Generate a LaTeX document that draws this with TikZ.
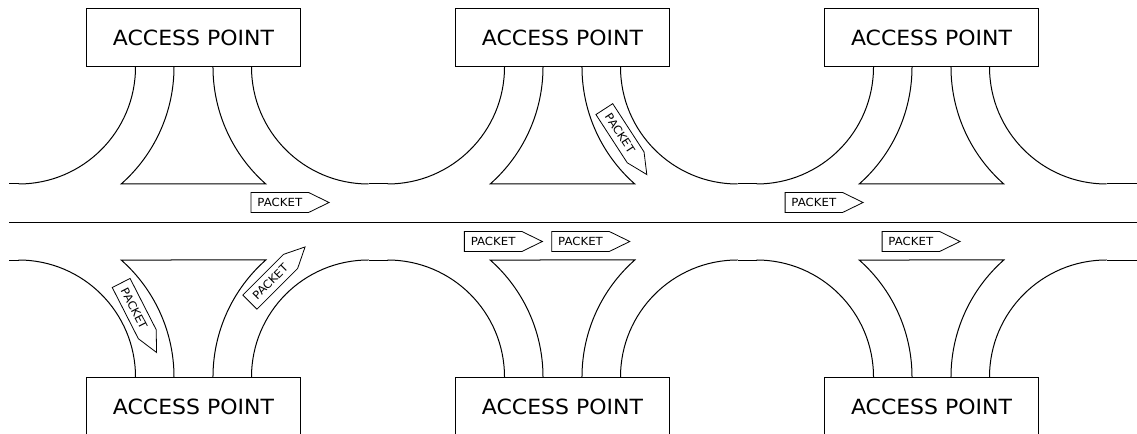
\documentclass[tikz,border=0pt]{standalone}
\usepackage{fontspec}
\setmainfont[FakeStretch=1.05]{DejaVu Sans}
\usetikzlibrary{shapes.symbols,calc}
\tikzset{
  apbox/.style={draw,rectangle,inner sep=0pt,minimum width=160.5pt,minimum height=43.5pt,font=\fontsize{15.7}{18}\selectfont},
  packet/.style={draw,signal,signal to=east,signal pointer angle=52,inner sep=0pt,minimum width=58.5pt,minimum height=15pt,anchor=east,font=\fontsize{8.4}{9}\selectfont,line width=0.6pt},
}
\begin{document}
\begin{tikzpicture}[x=0.75pt,y=0.75pt,line width=0.75pt]
\useasboundingbox (0,0) rectangle (1137,434);
\path[clip] (0,0) rectangle (1137,434);
% access points
\foreach \n/\cx in {1/193.5,2/562.5,3/931.5}{
  \node[apbox] (t\n) at (\cx,396.5) {ACCESS POINT};
  \node[apbox] (b\n) at (\cx,27.5) {ACCESS POINT};
  % upper junction
  \draw ($(t\n.south)+(-58,0)$) arc[start angle=0,end angle=-90,radius=117];
  \draw ($(t\n.south)+(-19.5,0)$) arc[start angle=0,end angle=-48.59,radius=156]
     -- ($(t\n.south)+(72.3,-117)$) arc[start angle=228.59,end angle=180,radius=156];
  \draw ($(t\n.south)+(58,0)$) arc[start angle=180,end angle=270,radius=117];
  % lower junction
  \draw ($(b\n.north)+(-58,0)$) arc[start angle=0,end angle=90,radius=117];
  \draw ($(b\n.north)+(-19.5,0)$) arc[start angle=0,end angle=48.59,radius=156]
     -- ($(b\n.north)+(72.3,117)$) arc[start angle=131.41,end angle=180,radius=156];
  \draw ($(b\n.north)+(58,0)$) arc[start angle=180,end angle=90,radius=117];
}
% straight runs along the corridors
\foreach \yy in {250.5,173.5}{
  \draw (9,\yy) -- (18.5,\yy);
  \draw (368.5,\yy) -- (387.5,\yy);
  \draw (737.5,\yy) -- (756.5,\yy);
  \draw (1106.5,\yy) -- (1137,\yy);
}
\draw (9,211.5) -- (1137,211.5);
% packets
\node[packet] (p1) at (330,231.5) {PACKET};
\node[packet] (p2) at (864,231.5) {PACKET};
\node[packet] (p3) at (543.3,192.5) {PACKET};
\node[packet] (p4) at (630.7,192.5) {PACKET};
\node[packet] (p5) at (961,192.5) {PACKET};
\node[packet,rotate=-57] (p6) at (647.3,258.7) {PACKET};
\node[packet,rotate=-63] (p7) at (157,80.7) {PACKET};
\node[packet,rotate=45] (p8) at (305.7,187.7) {PACKET};
\end{tikzpicture}
\end{document}
